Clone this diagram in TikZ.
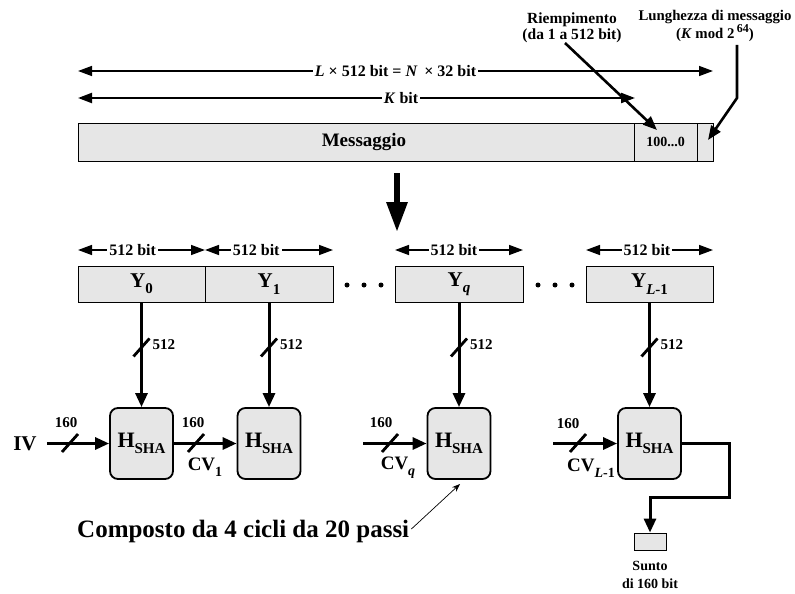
\documentclass[tikz,border=0pt]{standalone}
\usepackage{fontspec}
\setmainfont{Liberation Serif}
\usetikzlibrary{arrows.meta,calc}
\newcommand{\fs}[1]{\fontsize{#1}{#1}\selectfont}
\newcommand{\mysub}[2]{\raisebox{-0.3em}{\fs{#1}#2}}
\definecolor{boxgray}{HTML}{E6E6E6}
\begin{document}
\begin{tikzpicture}[x=1pt,y=-1pt,
  dimarr/.style={line width=1.6pt,{Triangle[length=14pt,width=10pt]}-{Triangle[length=14pt,width=10pt]}},
  dimlbl/.style={fill=white,inner sep=2pt,font=\bfseries\fs{16}},
  blk/.style={draw,line width=0.9pt,fill=boxgray,inner sep=0pt},
  hbox/.style={draw,line width=1.8pt,rounded corners=8pt,fill=boxgray,minimum width=63pt,minimum height=71pt,inner sep=0pt,font=\bfseries\fs{22}},
  ybox/.style={blk,minimum height=36pt,font=\bfseries\fs{21}},
  flow/.style={line width=3pt,-{Triangle[length=14pt,width=12pt]}},
  slashst/.style={line width=2.8pt},
  lbl/.style={font=\bfseries\fs{15},inner sep=0pt},
  cvlbl/.style={font=\bfseries\fs{19},inner sep=0pt},
  note/.style={font=\bfseries\fs{15.5},align=center,inner sep=0pt}
]
\useasboundingbox (0,0) rectangle (795,594);

% message bar
\node[blk,minimum width=556pt,minimum height=38pt] (msg) at (356,142) {};
\node[font=\bfseries\fs{19},inner sep=0pt] (msgt) at (364,142) {Messaggio};
\node[blk,minimum width=63pt,minimum height=38pt,font=\bfseries\fs{14}] (pad) at (665.5,142) {100...0};
\node[blk,minimum width=16pt,minimum height=38pt] (len) at (705,142) {};

% dimension arrows on top
\coordinate (La) at (78,71); \coordinate (Lb) at (713,71);
\draw[dimarr,line width=1.5pt] (La) -- node[dimlbl]{\textit{L} × 512 bit = \textit{N}\, × 32 bit} (Lb);
\coordinate (Ka) at (78,98); \coordinate (Kb) at (635,98);
\draw[dimarr,line width=2.2pt] (Ka) -- node[dimlbl,pos=0.58]{\textit{K} bit} (Kb);

% notes
\node[note] (riemp) at (572,28) {Riempimento\\(da 1 a 512 bit)};
\node[note,font=\bfseries\fs{14.8}] (lungh) at (715,26) {Lunghezza di messaggio\\(\textit{K} mod 2\,\raisebox{0.45em}{\fs{12}64})};
\coordinate (ra) at (565,43); \coordinate (rb) at (657,130);
\draw[line width=2.6pt,-{Triangle[length=14pt,width=11pt]}] (ra) -- (rb);
\coordinate (la) at (737,45); \coordinate (lb) at (737,98); \coordinate (lc) at (708,140);
\draw[line width=2.6pt,-{Triangle[length=14pt,width=11pt]}] (la) -- (lb) -- (lc);

% big down arrow
\coordinate (ba) at (397,173); \coordinate (bb) at (397,232);
\draw[line width=6pt,-{Triangle[length=30pt,width=20pt]}] (ba) -- (bb);

% Y blocks
\node[ybox,minimum width=127pt] (y0) at (141.5,284) {Y\mysub{15}{0}};
\node[ybox,minimum width=128pt] (y1) at (269,284) {Y\mysub{15}{1}};
\node[ybox,minimum width=128pt] (yq) at (459,284) {Y\mysub{15}{\textit{q}}};
\node[ybox,minimum width=127pt] (yl) at (649.5,284) {Y\mysub{15}{\textit{L}-1}};

% dots
\foreach \x/\n in {347/d1,364/d2,381/d3,538/d4,555/d5,572/d6}
  \fill (\x,285) circle (2.5pt);

% 512 bit arrows
\foreach \a/\b/\p [count=\i] in {78/205/0.43,205/333/0.40,395/523/0.46,586/713/0.48}{
  \coordinate (ba\i) at (\a,250); \coordinate (bb\i) at (\b,250);
  \draw[dimarr,line width=1.5pt] (ba\i) -- node[dimlbl,pos=\p]{512 bit} (bb\i);
}

% H boxes
\node[hbox] (h1) at (141.5,443.5) {H\mysub{15}{SHA}};
\node[hbox] (h2) at (269,443.5) {H\mysub{15}{SHA}};
\node[hbox] (h3) at (459,443.5) {H\mysub{15}{SHA}};
\node[hbox] (h4) at (649.5,443.5) {H\mysub{15}{SHA}};

% vertical Y -> H
\foreach \y/\h in {y0/h1,y1/h2,yq/h3,yl/h4}{
  \draw[flow] (\y.south) -- coordinate[pos=0.43](s\h) (\h.north);
  \draw[slashst] ($(s\h)+(-8,9)$) -- ($(s\h)+(8,-9)$);
  \node[lbl,anchor=west] at ($(s\h)+(11,-3)$) {512};
}

% horizontal inputs
\node[font=\bfseries\fs{21},inner sep=0pt] (iv) at (25,443.5) {IV};
\draw[flow] (iv.east) ++(10,0) coordinate (iva) -- (h1.west);
\draw[slashst] (62,452) -- (78,434);
\node[lbl] at (66,423) {160};

\draw[flow] (h1.east) -- (h2.west);
\draw[slashst] (188,452) -- (204,434);
\node[lbl] at (193,423) {160};
\node[cvlbl] at (205,467) {CV\mysub{14}{1}};

\coordinate (qa) at (363,443.5);
\draw[flow] (qa) -- (h3.west);
\draw[slashst] (382,452) -- (398,434);
\node[lbl] at (381,423) {160};
\node[cvlbl] at (398,468) {CV\mysub{14}{\textit{q}}};

\coordinate (lqa) at (553,443.5);
\draw[flow] (lqa) -- (h4.west);
\draw[slashst] (570,452) -- (586,434);
\node[lbl] at (568,424) {160};
\node[cvlbl] at (591,468) {CV\mysub{14}{\textit{L}-1}};

% output
\node[blk,minimum width=32pt,minimum height=17pt] (sunto) at (650,541.5) {};
\draw[flow,line join=miter] (h4.east) -- (729,443.5) -- (729,497) -- (650,497) -- (sunto.north);
\node[font=\bfseries\fs{14},align=center,inner sep=0pt,anchor=north] (suntot) at (650,561) {Sunto\\[4pt]di 160 bit};

% composto note
\node[font=\bfseries\fs{25},inner sep=0pt,anchor=west] (comp) at (77,531) {Composto da 4 cicli da 20 passi};
\coordinate (ca) at (460,484);
\draw[line width=0.7pt,-{Stealth[length=8pt,width=6pt]}] ($(comp.east)+(2,-2)$) -- (ca);
\end{tikzpicture}
\end{document}
